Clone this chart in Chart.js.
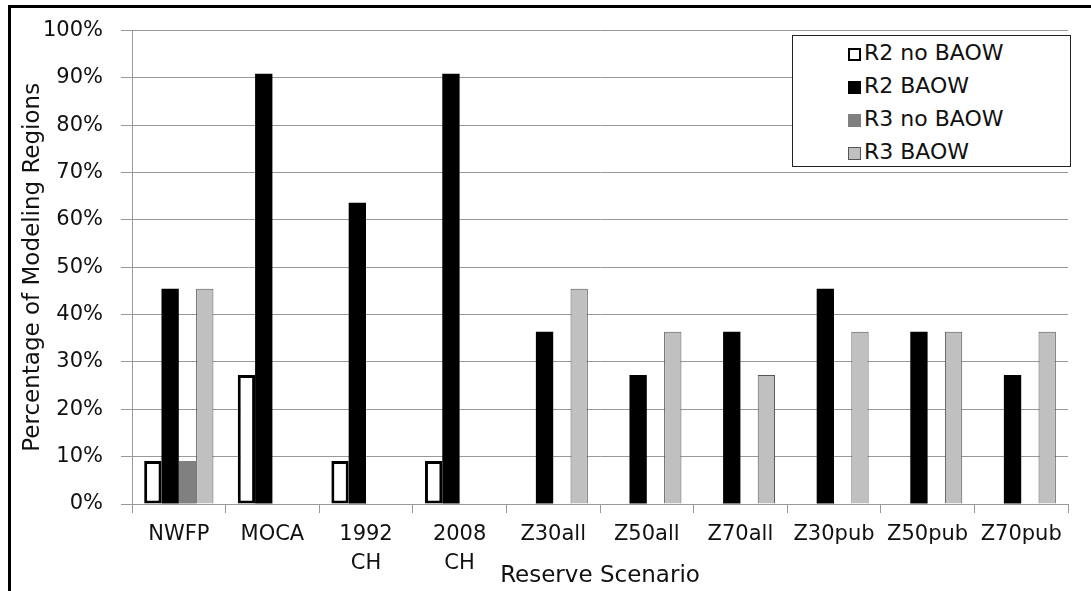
<!DOCTYPE html>
<html>
<head>
<meta charset="utf-8">
<script src="https://cdn.jsdelivr.net/npm/chart.js@4.4.1/dist/chart.umd.min.js"></script>
<style>
  body { margin: 0; background: #fff; }
  #wrap { position: relative; width: 1091px; height: 591px; overflow: hidden; }
  #marco { position: absolute; left: 8px; top: 5px; width: 1200px; height: 700px;
    border-left: 3px solid #000; border-top: 3px solid #000; pointer-events: none; }
  #leyenda { position: absolute; left: 792px; top: 35px; width: 277px; height: 130px;
    border: 1.5px solid #222; background: #fff; font-family: "DejaVu Sans", sans-serif;
    font-size: 22px; color: #111; }
  #leyenda div { height: 33px; line-height: 33px; padding-left: 55px; white-space: nowrap; }
  #leyenda span.cuadro { display: inline-block; width: 13px; height: 13px; box-sizing: border-box;
    margin-right: 3px; vertical-align: -1px; }
</style>
</head>
<body>
<div id="wrap">
  <canvas id="myChart" width="1091" height="591"></canvas>
  <div id="marco"></div>
  <div id="leyenda"></div>
</div>
<script>
// datos
const escenarios = ['NWFP', 'MOCA', ['1992', 'CH'], ['2008', 'CH'], 'Z30all', 'Z50all', 'Z70all', 'Z30pub', 'Z50pub', 'Z70pub'];
const r2NoBaow = [9.09, 27.27, 9.09, 9.09, 0, 0, 0, 0, 0, 0];
const r2Baow = [45.45, 90.91, 63.64, 90.91, 36.36, 27.27, 36.36, 45.45, 36.36, 27.27];
const r3NoBaow = [9.09, 0, 0, 0, 0, 0, 0, 0, 0, 0];
const r3Baow = [45.45, 0, 0, 0, 45.45, 36.36, 27.27, 36.36, 36.36, 36.36];
const ticksY = [0, 10, 20, 30, 40, 50, 60, 70, 80, 90, 100];

const ctx = document.querySelector('#myChart').getContext('2d');

const data = {
    labels: escenarios,
    datasets: [
        { label: 'R2 no BAOW', data: r2NoBaow, backgroundColor: '#fff', borderColor: '#000', borderWidth: 3, borderSkipped: false },
        { label: 'R2 BAOW', data: r2Baow, backgroundColor: '#000', borderColor: '#000', borderWidth: 0 },
        { label: 'R3 no BAOW', data: r3NoBaow, backgroundColor: '#808080', borderColor: '#808080', borderWidth: 0 },
        { label: 'R3 BAOW', data: r3Baow, backgroundColor: '#c0c0c0', borderColor: '#555', borderWidth: 1 }
    ]
};

const chart = new Chart(ctx, {
    type: 'bar',
    data: data,
    options: {
        responsive: false,
        animation: false,
        categoryPercentage: 0.74,
        barPercentage: 1,
        layout: { padding: { left: 17, top: 23, right: 23, bottom: 0 } },
        plugins: { legend: { display: false }, tooltip: { enabled: false } },
        scales: {
            x: {
                grid: { drawOnChartArea: false, tickLength: 9, color: '#999', offset: true },
                border: { color: '#999', width: 1 },
                ticks: { color: '#111', font: { family: 'DejaVu Sans', size: 21, lineHeight: 1.38 }, padding: 7, maxRotation: 0, autoSkip: false },
                title: { display: true, text: 'Reserve Scenario', color: '#111', font: { family: 'DejaVu Sans', size: 23 }, padding: { top: 0, bottom: 1 } },
                afterFit: function (scale) { scale.height = 87; }
            },
            y: {
                min: 0,
                max: 100,
                afterBuildTicks: function (scale) { scale.ticks = ticksY.map(v => ({ value: v })); },
                grid: { color: '#999', tickLength: 11 },
                border: { color: '#999', width: 1 },
                ticks: { color: '#111', font: { family: 'DejaVu Sans', size: 21 }, padding: 18, callback: v => v + '%' },
                title: { display: true, text: 'Percentage of Modeling Regions', color: '#111', font: { family: 'DejaVu Sans', size: 23 }, padding: { top: 2, bottom: 0 } },
                afterFit: function (scale) { scale.width = 115; }
            }
        }
    }
});

// leyenda en html, armada desde los datasets
let leyenda = '';
chart.data.datasets.forEach((ds) => {
    const borde = ds.borderWidth > 0 ? `${Math.min(ds.borderWidth, 2.5)}px solid ${ds.borderColor}` : 'none';
    leyenda += `<div><span class="cuadro" style="background:${ds.backgroundColor};border:${borde}"></span>${ds.label}</div>`;
});
document.querySelector('#leyenda').innerHTML = leyenda;
</script>
</body>
</html>
